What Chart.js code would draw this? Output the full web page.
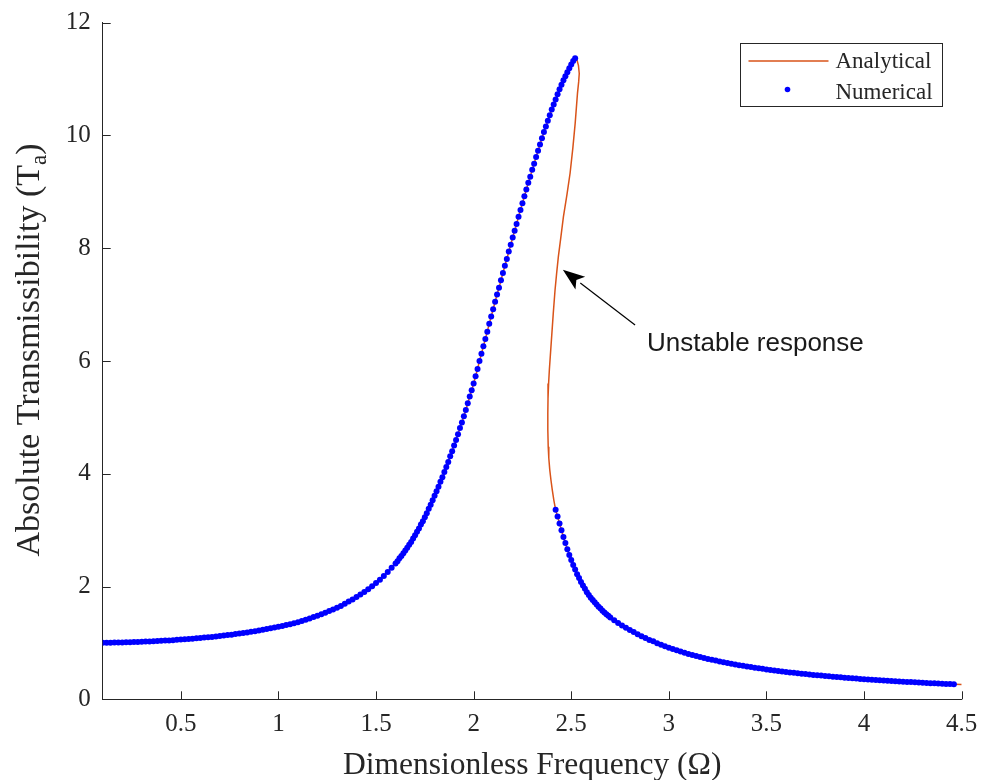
<!DOCTYPE html>
<html>
<head>
<meta charset="utf-8">
<script src="https://cdn.jsdelivr.net/npm/chart.js@4.4.1/dist/chart.umd.min.js"></script>
<style>
  html, body { margin: 0; padding: 0; background: #ffffff; overflow: hidden; }
  #wrap { width: 981px; height: 780px; position: relative; }
</style>
</head>
<body>
<div id="wrap"><canvas id="c"></canvas></div>
<script>
// ---------- data ----------
// stable upper branch (numerical dots + analytical line)
const upperX = [0.10,0.12,0.14,0.16,0.18,0.20,0.22,0.24,0.26,0.28,0.30,0.32,0.34,0.36,0.38,0.40,0.42,0.44,0.46,0.48,
  0.50,0.52,0.54,0.56,0.58,0.60,0.62,0.64,0.66,0.68,0.70,0.72,0.74,0.76,0.78,0.80,0.82,0.84,0.86,0.88,
  0.90,0.92,0.94,0.96,0.98,1.00,1.02,1.04,1.06,1.08,1.10,1.12,1.14,1.16,1.18,1.20,1.22,1.24,1.26,1.28,
  1.30,1.32,1.34,1.36,1.38,1.40,1.42,1.44,1.46,1.48,1.50,1.52,1.54,1.56,1.58,
  1.60,1.61,1.62,1.63,1.64,1.65,1.66,1.67,1.68,1.69,1.70,1.71,1.72,1.73,1.74,1.75,1.76,1.77,1.78,1.79,
  1.80,1.81,1.82,1.83,1.84,1.85,1.86,1.87,1.88,1.89,1.90,1.91,1.92,1.93,1.94,1.95,1.96,1.97,1.98,1.99,
  2.00,2.01,2.02,2.03,2.04,2.05,2.06,2.07,2.08,2.09,2.10,2.11,2.12,2.13,2.14,2.15,2.16,2.17,2.18,2.19,
  2.20,2.21,2.22,2.23,2.24,2.25,2.26,2.27,2.28,2.29,2.30,2.31,2.32,2.33,2.34,2.35,2.36,2.37,2.38,2.39,
  2.40,2.41,2.42,2.43,2.44,2.45,2.46,2.47,2.48,2.49,2.50,2.51,2.52];
const upperY = [1.002,1.003,1.004,1.006,1.007,1.009,1.011,1.013,1.015,1.018,1.020,1.023,1.026,1.030,1.033,1.037,1.041,1.045,1.049,1.054,
  1.059,1.064,1.069,1.075,1.081,1.087,1.094,1.100,1.107,1.115,1.122,1.130,1.139,1.147,1.157,1.166,1.176,1.186,1.197,1.208,
  1.220,1.232,1.245,1.258,1.272,1.286,1.301,1.317,1.333,1.351,1.368,1.389,1.411,1.433,1.458,1.483,1.509,1.537,1.565,1.593,
  1.624,1.656,1.695,1.734,1.772,1.813,1.857,1.903,1.952,2.005,2.061,2.122,2.187,2.257,2.332,
  2.41,2.45,2.50,2.54,2.59,2.64,2.69,2.74,2.79,2.85,2.91,2.97,3.03,3.10,3.16,3.23,3.30,3.38,3.45,3.53,
  3.61,3.69,3.77,3.86,3.94,4.03,4.12,4.21,4.31,4.40,4.50,4.60,4.70,4.81,4.91,5.02,5.13,5.25,5.37,5.48,
  5.60,5.73,5.86,6.00,6.13,6.26,6.39,6.52,6.66,6.79,6.92,7.05,7.18,7.30,7.43,7.56,7.69,7.81,7.94,8.06,
  8.19,8.31,8.43,8.56,8.68,8.80,8.92,9.04,9.16,9.27,9.39,9.50,9.62,9.73,9.84,9.95,10.06,10.16,10.26,10.36,
  10.46,10.55,10.64,10.73,10.82,10.90,10.98,11.05,11.12,11.19,11.26,11.32,11.37];

// unstable middle branch (analytical line only), from the fold downwards
const unstableX = [2.530,2.537,2.541,2.538,2.532,2.520,2.508,2.494,2.478,2.460,2.447,2.434,2.425,2.417,2.408,2.400,
  2.393,2.388,2.384,2.381,2.380,2.380,2.382,2.385,2.390,2.396,2.403,2.411];
const unstableY = [11.33,11.24,11.10,10.95,10.75,10.21,9.77,9.33,8.95,8.56,8.20,7.85,7.55,7.26,6.85,6.45,
  6.10,5.85,5.60,5.33,5.07,4.78,4.48,4.28,4.07,3.89,3.71,3.53];

// stable lower branch (numerical dots + analytical line)
const lowerX = [2.42,2.43,2.44,2.45,2.46,2.47,2.48,2.49,2.50,2.51,2.52,2.53,2.54,2.55,2.56,2.57,2.58,2.59,2.60,
  2.61,2.62,2.63,2.64,2.65,2.66,2.67,2.68,2.69,2.70,
  2.72,2.74,2.76,2.78,2.80,2.82,2.84,2.86,2.88,2.90,2.92,2.94,2.96,2.98,3.00,3.02,3.04,3.06,3.08,3.10,
  3.12,3.14,3.16,3.18,3.20,3.22,3.24,3.26,3.28,3.30,3.32,3.34,3.36,3.38,3.40,3.42,3.44,3.46,3.48,3.50,
  3.52,3.54,3.56,3.58,3.60,3.62,3.64,3.66,3.68,3.70,3.72,3.74,3.76,3.78,3.80,3.82,3.84,3.86,3.88,3.90,
  3.92,3.94,3.96,3.98,4.00,4.02,4.04,4.06,4.08,4.10,4.12,4.14,4.16,4.18,4.20,4.22,4.24,4.26,4.28,4.30,
  4.32,4.34,4.36,4.38,4.40,4.42,4.44,4.46];
const lowerY = [3.36,3.24,3.12,3.00,2.88,2.77,2.66,2.56,2.47,2.38,2.30,2.22,2.15,2.08,2.02,1.96,1.90,1.85,1.80,
  1.76,1.72,1.68,1.64,1.61,1.57,1.54,1.51,1.48,1.45,
  1.40,1.355,1.31,1.27,1.23,1.193,1.155,1.119,1.085,1.053,1.03,0.993,0.966,0.940,0.915,0.891,0.868,0.846,0.825,0.805,
  0.786,0.767,0.750,0.733,0.716,0.701,0.686,0.671,0.657,0.643,0.630,0.618,0.605,0.594,0.582,0.571,0.560,0.550,0.540,0.530,
  0.521,0.512,0.503,0.494,0.486,0.477,0.470,0.462,0.454,0.447,0.440,0.433,0.426,0.420,0.413,0.407,0.401,0.395,0.389,0.383,
  0.378,0.373,0.367,0.362,0.357,0.352,0.347,0.343,0.338,0.334,0.329,0.325,0.321,0.317,0.312,0.309,0.305,0.301,0.297,0.293,
  0.290,0.286,0.283,0.280,0.276,0.273,0.270,0.267];

// analytical line continues slightly past the last numerical point
const endX = [4.50];
const endY = [0.261];

// axis ticks
const xTicks = [0.5,1,1.5,2,2.5,3,3.5,4,4.5];
const yTicks = [0,2,4,6,8,10,12];

const seriesNames = ['Analytical', 'Numerical'];
const annotationText = 'Unstable response';
const xTitle = 'Dimensionless Frequency (\u03A9)';
const yTitleMain = 'Absolute Transmissibility (T';
const yTitleSub = 'a';
const yTitleEnd = ')';

// ---------- build tables ----------
const pairs = (xs, ys) => xs.map((x, i) => ({ x: x, y: ys[i] }));
const numericalData = pairs(upperX, upperY).concat(pairs(lowerX, lowerY));
const analyticalData = pairs(upperX, upperY)
  .concat(pairs(unstableX, unstableY))
  .concat(pairs(lowerX, lowerY))
  .concat(pairs(endX, endY));

const ORANGE = '#D95319';
const BLUE = '#0000FF';
const AXIS = '#262626';
const SERIF = '"Liberation Serif", "Times New Roman", serif';
const SANS = '"Liberation Sans", Arial, sans-serif';

const decorations = {
  id: 'decorations',
  afterDraw(chart) {
    const ctx = chart.ctx;
    const xs = chart.scales.x, ys = chart.scales.y;
    const ca = chart.chartArea;
    ctx.save();
    // inward tick marks
    ctx.strokeStyle = AXIS;
    ctx.lineWidth = 1;
    const TL = 8;
    xTicks.forEach(v => {
      const px = Math.round(xs.getPixelForValue(v)) + 0.5;
      ctx.beginPath(); ctx.moveTo(px, ca.bottom); ctx.lineTo(px, ca.bottom - TL); ctx.stroke();
    });
    yTicks.forEach(v => {
      const py = Math.round(ys.getPixelForValue(v)) + 0.5;
      ctx.beginPath(); ctx.moveTo(ca.left, py); ctx.lineTo(ca.left + TL, py); ctx.stroke();
    });

    // x title
    ctx.fillStyle = AXIS;
    ctx.font = '31.5px ' + SERIF;
    ctx.textAlign = 'center';
    ctx.textBaseline = 'alphabetic';
    ctx.fillText(xTitle, (ca.left + ca.right) / 2, 774);

    // y title with subscript
    ctx.save();
    ctx.translate(39, 350);
    ctx.rotate(-Math.PI / 2);
    ctx.textAlign = 'left';
    const FM = 34, FS = 23;
    ctx.font = FM + 'px ' + SERIF;
    const w1 = ctx.measureText(yTitleMain).width;
    const w3 = ctx.measureText(yTitleEnd).width;
    ctx.font = FS + 'px ' + SERIF;
    const w2 = ctx.measureText(yTitleSub).width;
    let sx = -(w1 + w2 + w3) / 2;
    ctx.font = FM + 'px ' + SERIF;
    ctx.fillText(yTitleMain, sx, 0);
    ctx.font = FS + 'px ' + SERIF;
    ctx.fillText(yTitleSub, sx + w1, 7);
    ctx.font = FM + 'px ' + SERIF;
    ctx.fillText(yTitleEnd, sx + w1 + w2, 0);
    ctx.restore();

    // legend box (inside the axes, top right)
    const bw = 202, bh = 63;
    const bx = Math.round(ca.right - 19.5 - bw) + 0.5;
    const by = Math.round(ca.top + 20) + 0.5;
    ctx.fillStyle = '#ffffff';
    ctx.fillRect(bx, by, bw, bh);
    ctx.strokeStyle = AXIS;
    ctx.lineWidth = 1;
    ctx.strokeRect(bx, by, bw, bh);
    ctx.strokeStyle = ORANGE;
    ctx.lineWidth = 1.5;
    ctx.beginPath(); ctx.moveTo(bx + 8, by + 17.5); ctx.lineTo(bx + 88, by + 17.5); ctx.stroke();
    ctx.fillStyle = BLUE;
    ctx.beginPath(); ctx.arc(bx + 47, by + 46, 2.8, 0, Math.PI * 2); ctx.fill();
    ctx.fillStyle = AXIS;
    ctx.font = '23px ' + SERIF;
    ctx.textAlign = 'left';
    ctx.textBaseline = 'middle';
    ctx.fillText(seriesNames[0], bx + 95, by + 18);
    ctx.fillText(seriesNames[1], bx + 95, by + 49);

    // annotation arrow and text (anchored in data coordinates)
    const tipX = xs.getPixelForValue(2.457), tipY = ys.getPixelForValue(7.62);
    const tailX = xs.getPixelForValue(2.827), tailY = ys.getPixelForValue(6.64);
    const ang = Math.atan2(tipY - tailY, tipX - tailX);
    const HL = 22, HW = 8;
    const bxh = tipX - HL * Math.cos(ang), byh = tipY - HL * Math.sin(ang);
    ctx.strokeStyle = '#000000';
    ctx.lineWidth = 1.2;
    ctx.beginPath(); ctx.moveTo(tailX, tailY); ctx.lineTo(bxh, byh); ctx.stroke();
    ctx.fillStyle = '#000000';
    ctx.beginPath();
    ctx.moveTo(tipX, tipY);
    ctx.lineTo(bxh + HW * Math.sin(ang), byh - HW * Math.cos(ang));
    ctx.lineTo(tipX - (HL - 5) * Math.cos(ang), tipY - (HL - 5) * Math.sin(ang));
    ctx.lineTo(bxh - HW * Math.sin(ang), byh + HW * Math.cos(ang));
    ctx.closePath();
    ctx.fill();
    ctx.fillStyle = '#1a1a1a';
    ctx.font = '26px ' + SANS;
    ctx.textAlign = 'left';
    ctx.textBaseline = 'middle';
    ctx.fillText(annotationText, xs.getPixelForValue(2.888), ys.getPixelForValue(6.30));
    ctx.restore();
  }
};

new Chart(document.getElementById('c'), {
  type: 'scatter',
  data: {
    datasets: [
      {
        label: seriesNames[1],
        data: numericalData,
        showLine: false,
        pointRadius: 3,
        pointBorderWidth: 0,
        pointBackgroundColor: BLUE,
        pointBorderColor: BLUE,
        order: 0
      },
      {
        label: seriesNames[0],
        data: analyticalData,
        showLine: true,
        borderColor: ORANGE,
        borderWidth: 1.5,
        pointRadius: 0,
        tension: 0,
        order: 1
      }
    ]
  },
  options: {
    responsive: true,
    maintainAspectRatio: false,
    animation: false,
    devicePixelRatio: 1,
    layout: { padding: { left: 0, right: 19.3, top: 22.7, bottom: 0 } },
    plugins: { legend: { display: false }, tooltip: { enabled: false } },
    scales: {
      x: {
        type: 'linear',
        min: 0.1,
        max: 4.5,
        afterFit: s => { s.height = 80.7; s.paddingLeft = 0; s.paddingRight = 0; s.paddingTop = 0; s.paddingBottom = 0; },
        afterBuildTicks: s => { s.ticks = xTicks.map(v => ({ value: v })); },
        grid: { display: true, drawOnChartArea: false, drawTicks: false },
        border: { display: true, color: AXIS, width: 1 },
        ticks: {
          padding: 10,
          maxRotation: 0,
          autoSkip: false,
          color: AXIS,
          font: { family: SERIF, size: 25 },
          callback: v => String(v)
        }
      },
      y: {
        type: 'linear',
        min: 0,
        max: 12,
        afterFit: s => { s.width = 102.7; s.paddingLeft = 0; s.paddingRight = 0; s.paddingTop = 0; s.paddingBottom = 0; },
        afterBuildTicks: s => { s.ticks = yTicks.map(v => ({ value: v })); },
        grid: { display: true, drawOnChartArea: false, drawTicks: false },
        border: { display: true, color: AXIS, width: 1 },
        ticks: {
          padding: 12,
          autoSkip: false,
          color: AXIS,
          font: { family: SERIF, size: 25 },
          callback: v => String(v)
        }
      }
    }
  },
  plugins: [decorations]
});
</script>
</body>
</html>
